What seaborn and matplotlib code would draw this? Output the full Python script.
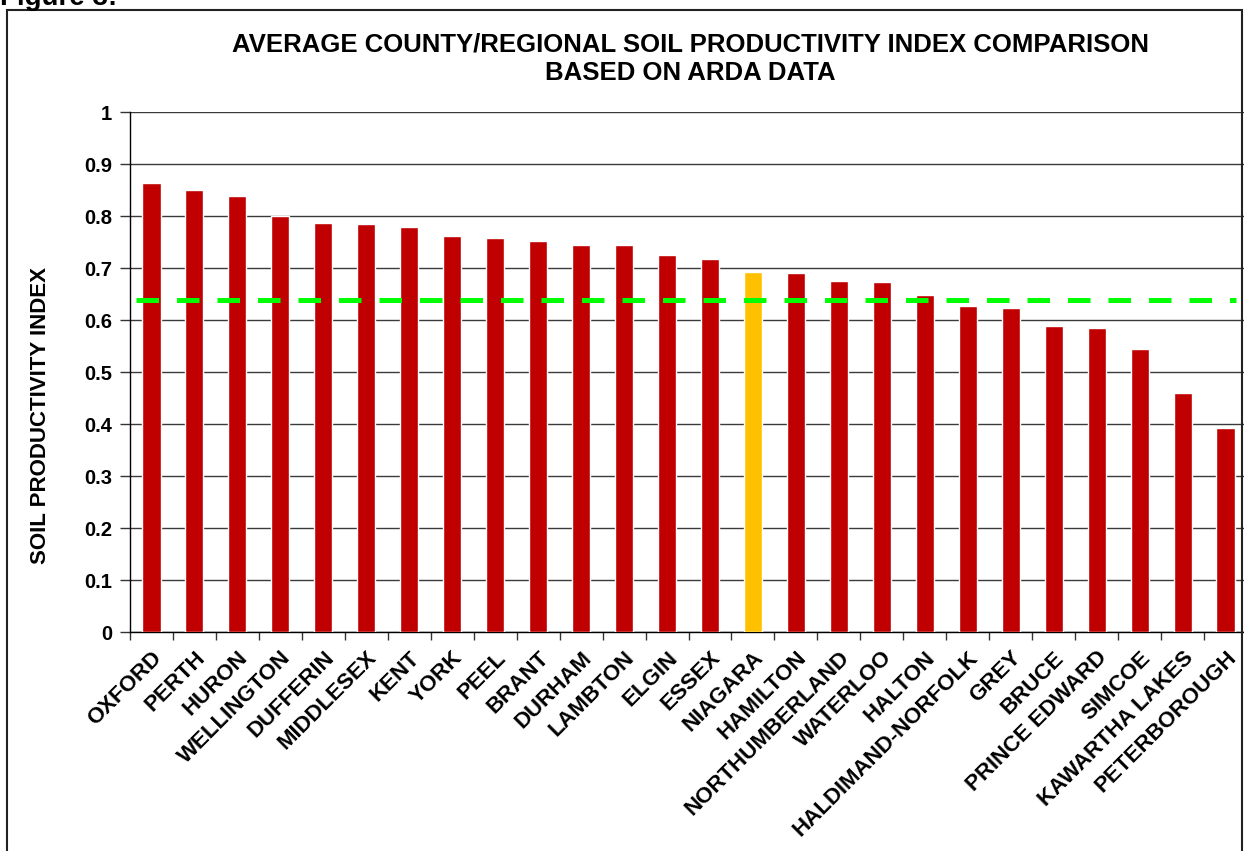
import numpy as np
import pandas as pd
import seaborn as sns
import matplotlib.pyplot as plt
from matplotlib import font_manager
from matplotlib.ticker import FixedLocator, FixedFormatter
from matplotlib.patches import Rectangle

# Data
counties = ["OXFORD", "PERTH", "HURON", "WELLINGTON", "DUFFERIN", "MIDDLESEX",
            "KENT", "YORK", "PEEL", "BRANT", "DURHAM", "LAMBTON", "ELGIN",
            "ESSEX", "NIAGARA", "HAMILTON", "NORTHUMBERLAND", "WATERLOO",
            "HALTON", "HALDIMAND-NORFOLK", "GREY", "BRUCE", "PRINCE EDWARD",
            "SIMCOE", "KAWARTHA LAKES", "PETERBOROUGH"]
spi = [0.863, 0.850, 0.838, 0.800, 0.787, 0.785,
       0.779, 0.762, 0.758, 0.752, 0.744, 0.744, 0.725,
       0.717, 0.692, 0.690, 0.675, 0.673,
       0.648, 0.627, 0.623, 0.588, 0.585,
       0.544, 0.460, 0.392]
provincial_avg = 0.639
highlight = "NIAGARA"
y_ticks = [0, 0.1, 0.2, 0.3, 0.4, 0.5, 0.6, 0.7, 0.8, 0.9, 1]
y_tick_labels = ["0", "0.1", "0.2", "0.3", "0.4", "0.5", "0.6", "0.7", "0.8", "0.9", "1"]

df = pd.DataFrame({"county": counties, "spi": spi})
palette = {c: ("#FFC000" if c == highlight else "#C00000") for c in counties}

# pick a family that really has a bold face (Arial-like first)
font_files = [f.lower() for f in font_manager.findSystemFonts()]
if any("liberationsans-bold." in f for f in font_files):
    family = "Liberation Sans"
else:
    family = "Noto Sans"

sns.set_style("white")
plt.rcParams["font.family"] = [family, "DejaVu Sans"]
plt.rcParams["font.weight"] = "bold"
for k in ["text.color", "axes.labelcolor", "xtick.color", "ytick.color"]:
    plt.rcParams[k] = "black"

fig = plt.figure(figsize=(12.44, 8.51), dpi=100)
ax = fig.add_axes([130 / 1244, 1 - 632 / 851, 1117 / 1244, 520 / 851])

sns.barplot(data=df, x="county", y="spi", hue="county", palette=palette,
            legend=False, width=0.42, saturation=1, ax=ax, zorder=3)

# provincial average line
ax.hlines(provincial_avg, -0.36, len(counties) - 0.75, colors="#00FF00",
          linewidth=3.6, linestyles=(0, (4.5, 3.6)), zorder=4)

ax.set_xlim(-0.5, len(counties) - 0.5)
ax.set_ylim(0, 1)
ax.yaxis.set_major_locator(FixedLocator(y_ticks))
ax.yaxis.set_major_formatter(FixedFormatter(y_tick_labels))
ax.grid(axis="y", color="#3a3a3a", linewidth=1, zorder=0)
ax.set_axisbelow(True)

for s in ["top", "right"]:
    ax.spines[s].set_visible(False)
for s in ["left", "bottom"]:
    ax.spines[s].set_color("black")
    ax.spines[s].set_linewidth(1)

ax.tick_params(axis="y", direction="out", length=7, width=1, color="#333333",
               labelsize=14.5, pad=6, left=True)
ax.tick_params(axis="x", which="major", length=0, labelsize=16, pad=11)
ax.xaxis.set_minor_locator(FixedLocator(np.arange(-0.5, len(counties), 1)))
ax.tick_params(axis="x", which="minor", direction="out", length=6, width=1,
               color="#333333", bottom=True)
plt.setp(ax.get_xticklabels(), rotation=45, ha="right", rotation_mode="anchor",
         fontweight="bold")
plt.setp(ax.get_yticklabels(), fontweight="bold")

ax.set_xlabel("")
ax.set_ylabel("SOIL PRODUCTIVITY INDEX", fontsize=16, fontweight="bold")
ax.yaxis.set_label_coords(-0.071, 0.417)

fig.text(690 / 1244, 1 - 45 / 851, "AVERAGE COUNTY/REGIONAL SOIL PRODUCTIVITY INDEX COMPARISON",
         ha="center", va="center", fontsize=18.5, fontweight="bold")
fig.text(690 / 1244, 1 - 73 / 851, "BASED ON ARDA DATA",
         ha="center", va="center", fontsize=18.5, fontweight="bold")

# figure caption cut off at the top and outer frame
fig.text(0.0, 1 - 5 / 851, "Figure 3:", ha="left", va="baseline",
         fontsize=20, fontweight="bold")
fig.patches.append(Rectangle((7 / 1244, -0.05), 1235 / 1244, 1.05 - 10 / 851,
                             transform=fig.transFigure, fill=False,
                             edgecolor="#222222", linewidth=1.5))

fig.savefig("out.png", dpi=100)
